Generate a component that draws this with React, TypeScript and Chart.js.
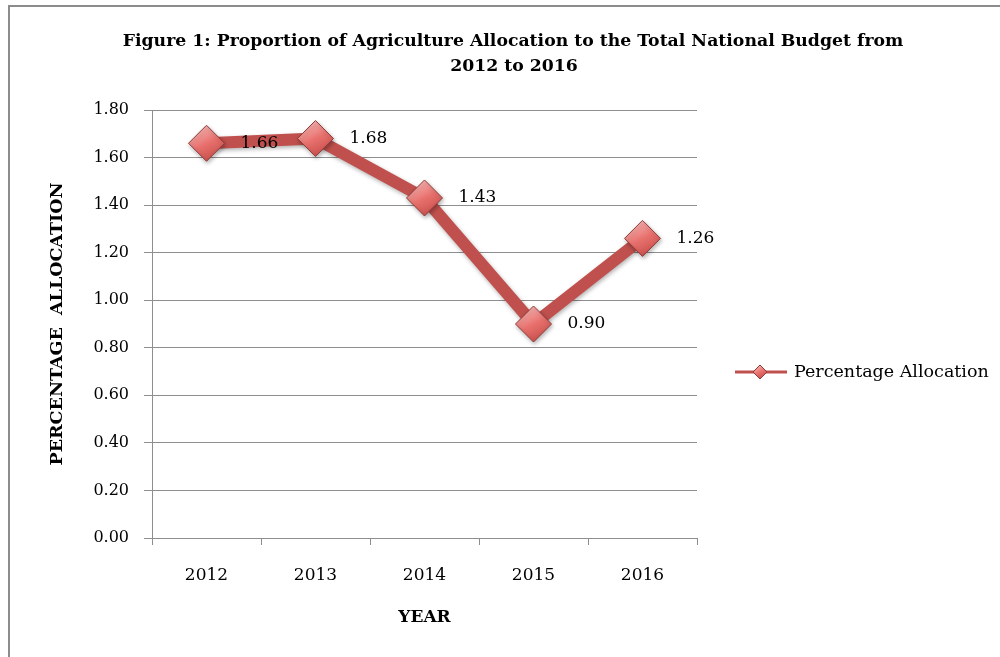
import React, { useEffect, useRef } from "react";
import { Chart, registerables } from "chart.js";

Chart.register(...registerables);

const years = ["2012", "2013", "2014", "2015", "2016"];
const allocation = [1.66, 1.68, 1.43, 0.9, 1.26];
const seriesName = "Percentage Allocation";
const titleLines = [
  "Figure 1: Proportion of Agriculture Allocation to the Total National Budget from",
  "2012 to 2016",
];
const yTitle = "PERCENTAGE  ALLOCATION";
const xTitle = "YEAR";

const LINE = "#C0504D";
const MARK_BORDER = "#8E3B39";
const GRID = "#8E8E8E";
const SERIF = '"DejaVu Serif", serif';

function diamondGradient(ctx: CanvasRenderingContext2D, x: number, y: number, r: number) {
  const g = ctx.createLinearGradient(x - r * 0.5, y - r, x + r * 0.5, y + r);
  g.addColorStop(0, "#F8BDBB");
  g.addColorStop(0.5, "#E8716E");
  g.addColorStop(1, "#C44A47");
  return g;
}

export default function App() {
  const ref = useRef<HTMLCanvasElement | null>(null);

  useEffect(() => {
    document.body.style.margin = "0";
    document.body.style.overflow = "hidden";
    const canvas = ref.current!;

    const decor = {
      id: "decor",
      beforeDatasetDraw(chart: any) {
        const c = chart.ctx;
        c.save();
        c.shadowColor = "rgba(0,0,0,0.30)";
        c.shadowBlur = 4;
        c.shadowOffsetX = 1;
        c.shadowOffsetY = 2;
      },
      afterDatasetDraw(chart: any) {
        chart.ctx.restore();
      },
      afterDraw(chart: any) {
        const c = chart.ctx as CanvasRenderingContext2D;
        c.save();
        // title, sized to the reference's line width
        c.fillStyle = "#000";
        c.textAlign = "center";
        c.textBaseline = "middle";
        c.font = "bold 17px " + SERIF;
        const w = c.measureText(titleLines[0]).width;
        const size = Math.min(20, (17 * 781) / w);
        c.font = "bold " + size.toFixed(2) + "px " + SERIF;
        c.fillText(titleLines[0], 513, 42);
        c.fillText(titleLines[1], 514, 67);

        // data labels
        const meta = chart.getDatasetMeta(0);
        c.font = "17px " + SERIF;
        c.textAlign = "left";
        meta.data.forEach((el: any, i: number) => {
          c.fillText(allocation[i].toFixed(2), el.x + 34, el.y);
        });

        // legend
        const ly = 372;
        c.strokeStyle = LINE;
        c.lineWidth = 3;
        c.beginPath();
        c.moveTo(735, ly);
        c.lineTo(787, ly);
        c.stroke();
        const r = 7;
        const lx = 760;
        c.beginPath();
        c.moveTo(lx - r, ly);
        c.lineTo(lx, ly - r);
        c.lineTo(lx + r, ly);
        c.lineTo(lx, ly + r);
        c.closePath();
        c.fillStyle = diamondGradient(c, lx, ly, r);
        c.fill();
        c.strokeStyle = MARK_BORDER;
        c.lineWidth = 1;
        c.stroke();
        c.fillStyle = "#000";
        c.font = "17.5px " + SERIF;
        c.textAlign = "left";
        c.fillText(seriesName, 794, ly);
        c.restore();
      },
    };

    const chart = new Chart(canvas, {
      type: "line",
      data: {
        labels: years,
        datasets: [
          {
            label: seriesName,
            data: allocation,
            borderColor: LINE,
            borderWidth: 12,
            borderJoinStyle: "round",
            borderCapStyle: "round",
            tension: 0,
            clip: false,
            pointStyle: "rectRot",
            pointRadius: 18,
            pointHoverRadius: 18,
            pointBorderColor: MARK_BORDER,
            pointBorderWidth: 1,
            pointBackgroundColor: (ctx: any) => {
              const fallback = "#E06C6A";
              if (ctx.type !== "data" || !ctx.parsed) return fallback;
              const ch = ctx.chart;
              const sx = ch.scales && ch.scales.x;
              const sy = ch.scales && ch.scales.y;
              if (!sx || !sy) return fallback;
              const x = sx.getPixelForValue(ctx.dataIndex);
              const y = sy.getPixelForValue(ctx.parsed.y);
              if (!Number.isFinite(x) || !Number.isFinite(y)) return fallback;
              return diamondGradient(ch.ctx, x, y, 18);
            },
          },
        ],
      },
      options: {
        responsive: false,
        animation: false,
        devicePixelRatio: 1,
        events: [],
        layout: { padding: { left: 37, top: 110, right: 303, bottom: 19 } },
        plugins: {
          legend: { display: false },
          title: { display: false },
          tooltip: { enabled: false },
        },
        scales: {
          x: {
            type: "category",
            offset: true,
            grid: {
              offset: true,
              drawOnChartArea: false,
              drawTicks: true,
              tickLength: 7,
              color: GRID,
            },
            border: { color: GRID, width: 1 },
            ticks: { color: "#000", font: { family: SERIF, size: 17 }, padding: 20 },
            title: {
              display: true,
              text: xTitle,
              color: "#000",
              font: { family: SERIF, size: 17, weight: "bold" },
              padding: { top: 0, bottom: 10 },
            },
            afterFit: (s: any) => {
              s.height = 100;
            },
          },
          y: {
            min: 0,
            max: 1.8,
            ticks: {
              stepSize: 0.2,
              color: "#000",
              font: { family: SERIF, size: 16 },
              padding: 15,
              callback: (v: any) => Number(v).toFixed(2),
            },
            grid: { color: GRID, tickLength: 8, drawTicks: true },
            border: { color: GRID, width: 1 },
            title: {
              display: true,
              text: yTitle,
              color: "#000",
              font: { family: SERIF, size: 17.5, weight: "bold" },
              padding: { top: 10, bottom: 0 },
            },
            afterFit: (s: any) => {
              s.width = 115;
            },
          },
        },
      },
      plugins: [decor],
    } as any);

    return () => chart.destroy();
  }, []);

  return (
    <div style={{ position: "absolute", left: 0, top: 0, width: 1000, height: 657, overflow: "hidden", background: "#fff" }}>
      <div
        style={{
          position: "absolute",
          left: 8,
          top: 5,
          width: 1100,
          height: 800,
          borderTop: "2px solid #8C8C8C",
          borderLeft: "2px solid #8C8C8C",
        }}
      />
      <canvas ref={ref} width={1000} height={657} style={{ position: "absolute", left: 0, top: 0, width: 1000, height: 657 }} />
    </div>
  );
}
